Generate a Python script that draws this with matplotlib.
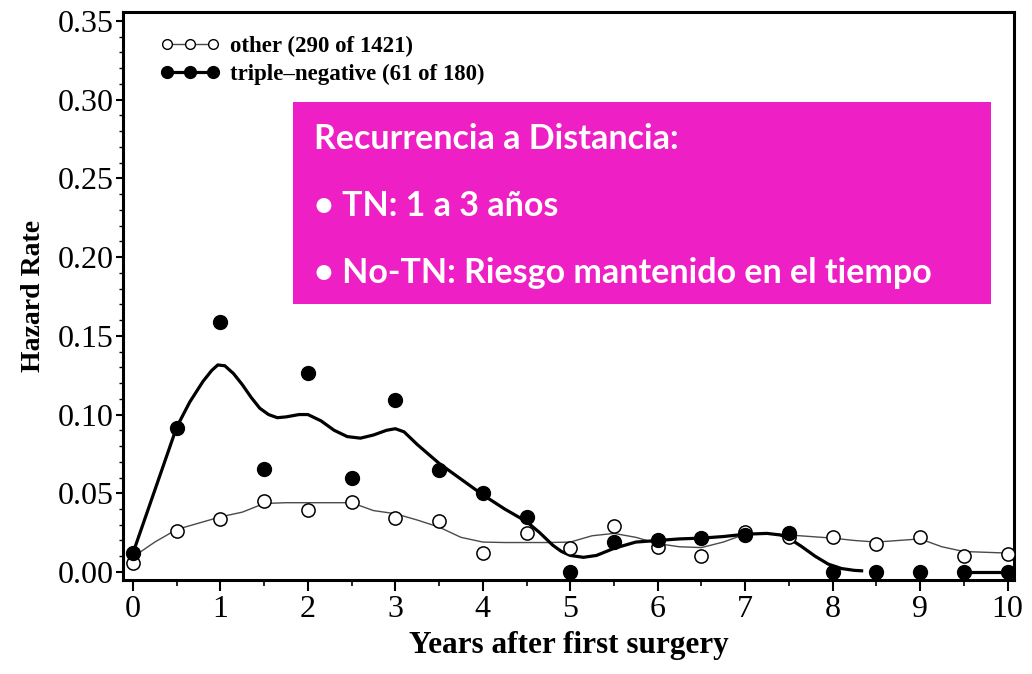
import matplotlib
matplotlib.use("Agg")
import matplotlib.pyplot as plt
from matplotlib.lines import Line2D
from matplotlib.patches import Rectangle
from matplotlib.ticker import MultipleLocator, FormatStrFormatter

# ---- data ----
years = [0, 0.5, 1, 1.5, 2, 2.5, 3, 3.5, 4, 4.5, 5, 5.5, 6, 6.5, 7, 7.5, 8, 8.5, 9, 9.5, 10]
other_points = [0.006, 0.026, 0.0335, 0.045, 0.0395, 0.0445, 0.034, 0.0325, 0.012, 0.025,
                0.015, 0.029, 0.016, 0.010, 0.0255, 0.022, 0.022, 0.018, 0.022, 0.010, 0.0115]
tn_points = [0.012, 0.0915, 0.159, 0.0655, 0.1265, 0.060, 0.109, 0.065, 0.050, 0.035,
             0.000, 0.019, 0.020, 0.0215, 0.0235, 0.025, 0.000, 0.000, 0.000, 0.000, 0.000]

curve_x = [0, 0.25, 0.5, 0.75, 1.0, 1.25, 1.5, 1.75, 2.0, 2.25, 2.5, 2.75, 3.0, 3.25, 3.5,
           3.75, 4.0, 4.25, 4.5, 4.75, 5.0, 5.25, 5.5, 5.75, 6.0, 6.25, 6.5, 6.75, 7.0,
           7.25, 7.5, 7.75, 8.0, 8.25, 8.5, 8.75, 9.0, 9.25, 9.5, 9.75, 10.0]
other_curve = [0.0095, 0.019, 0.027, 0.031, 0.035, 0.038, 0.0435, 0.044, 0.044, 0.044, 0.044,
               0.039, 0.037, 0.033, 0.0285, 0.022, 0.019, 0.0187, 0.0187, 0.0187, 0.019,
               0.023, 0.0245, 0.022, 0.018, 0.016, 0.0155, 0.019, 0.024, 0.0245, 0.0235,
               0.0225, 0.0215, 0.020, 0.019, 0.020, 0.021, 0.016, 0.013, 0.0125, 0.012]

tn_curve_x = [0, 0.25, 0.5, 0.65, 0.8, 0.9, 0.97, 1.05, 1.15, 1.25, 1.35, 1.45, 1.55, 1.65,
              1.75, 1.9, 2.0, 2.15, 2.3, 2.45, 2.6, 2.75, 2.9, 3.0, 3.1, 3.25, 3.5, 3.75,
              4.0, 4.25, 4.5, 4.65, 4.8, 4.9, 5.0, 5.15, 5.3, 5.5, 5.75, 6.0, 6.25, 6.5,
              6.75, 7.0, 7.25, 7.4, 7.5, 7.65, 7.8, 7.95, 8.1, 8.25, 8.35]
tn_curve = [0.012, 0.052, 0.092, 0.108, 0.121, 0.128, 0.1315, 0.131, 0.126, 0.119, 0.111,
            0.104, 0.100, 0.098, 0.0985, 0.1, 0.1, 0.096, 0.090, 0.086, 0.085, 0.087,
            0.090, 0.091, 0.089, 0.081, 0.069, 0.059, 0.049, 0.040, 0.032, 0.025, 0.017,
            0.013, 0.0105, 0.0093, 0.0105, 0.015, 0.019, 0.020, 0.021, 0.0215, 0.0225,
            0.024, 0.0245, 0.0235, 0.0215, 0.016, 0.010, 0.005, 0.0022, 0.001, 0.0007]
tn_tail_x = [9.5, 10.0]
tn_tail = [0.0, 0.0]

x_ticks = [0, 1, 2, 3, 4, 5, 6, 7, 8, 9, 10]
y_ticks = [0.00, 0.05, 0.10, 0.15, 0.20, 0.25, 0.30, 0.35]

legend_labels = ["other (290 of 1421)", "triple\u2013negative (61 of 180)"]
box_lines = ["Recurrencia a Distancia:", "\u2022 TN: 1 a 3 a\u00f1os",
             "\u2022 No-TN: Riesgo mantenido en el tiempo"]

# ---- figure ----
W, H = 1032, 674
fig = plt.figure(figsize=(W / 100, H / 100), dpi=100)
ax = fig.add_axes([123 / W, 1 - 580 / H, (1014 - 123) / W, (580 - 12) / H])

serif = ["Liberation Serif", "DejaVu Serif"]

ax.plot(curve_x, other_curve, color="#4a4a4a", lw=1.0, zorder=2)
ax.plot(tn_curve_x, tn_curve, color="black", lw=2.3, zorder=3, solid_capstyle="butt",
        solid_joinstyle="round")
ax.plot(tn_tail_x, tn_tail, color="black", lw=2.3, zorder=3)

ax.plot(years, other_points, linestyle="none", marker="o", ms=9.5, mfc="white",
        mec="black", mew=1.1, zorder=4)
ax.plot(years, tn_points, linestyle="none", marker="o", ms=10, mfc="black",
        mec="black", zorder=5)

ax.set_xlim(-0.114, 10.074)
ax.set_ylim(-0.0051, 0.3557)

ax.set_xticks(x_ticks)
ax.xaxis.set_minor_locator(MultipleLocator(0.5))
ax.set_yticks(y_ticks)
ax.yaxis.set_minor_locator(MultipleLocator(0.01))
ax.yaxis.set_major_formatter(FormatStrFormatter("%.2f"))

for lab in ax.get_xticklabels() + ax.get_yticklabels():
    lab.set_family(serif)
    lab.set_fontsize(23)

ax.tick_params(axis="x", which="major", direction="out", length=8, width=1.5, pad=3)
ax.tick_params(axis="x", which="minor", direction="out", length=4, width=1.2)
ax.tick_params(axis="y", which="major", direction="out", length=5, width=1.5, pad=2)
ax.tick_params(axis="y", which="minor", direction="out", length=3, width=1.0)

for sp in ax.spines.values():
    sp.set_linewidth(2.2)

ax.set_xlabel("Years after first surgery", family=serif, fontsize=22.5, fontweight="bold",
              labelpad=5)
ax.set_ylabel("Hazard Rate", family=serif, fontsize=20, fontweight="bold", labelpad=8)

handles = [
    Line2D([], [], color="#4a4a4a", lw=1.0, marker="o", ms=7, mfc="white", mec="black",
           mew=1.0),
    Line2D([], [], color="black", lw=2.3, marker="o", ms=8.5, mfc="black", mec="black"),
]
leg = ax.legend(handles, legend_labels, loc="upper left",
                bbox_to_anchor=((160 - 123) / (1014 - 123), 1 - (36 - 12) / (580 - 12)),
                frameon=False, numpoints=3, handlelength=2.6, handletextpad=0.45,
                labelspacing=0.3, borderpad=0, borderaxespad=0,
                prop={"family": serif, "weight": "bold", "size": 16.5})

# magenta annotation box
bx0, by0, bx1, by1 = 293, 102, 991, 304
fig.add_artist(Rectangle((bx0 / W, 1 - by1 / H), (bx1 - bx0) / W, (by1 - by0) / H,
                         transform=fig.transFigure, facecolor="#EE1FC4",
                         edgecolor="none", zorder=10))
sans = ["Lato", "DejaVu Sans"]
for txt, base in zip(box_lines, [149, 216, 283]):
    fig.text(314 / W, 1 - base / H, txt, color="white", fontsize=24.5, fontweight="bold",
             family=sans, ha="left", va="baseline", zorder=11)

fig.savefig("out.png", dpi=100)
